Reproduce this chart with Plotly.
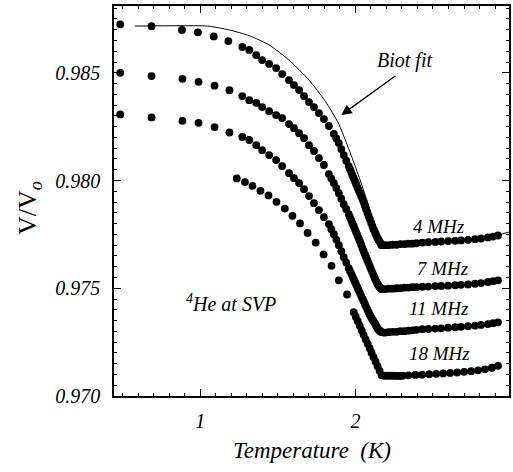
import plotly.graph_objects as go

# ---------------- data ----------------
T_4MHz = [0.484, 0.686, 0.882, 0.985, 1.087, 1.181,
          1.271, 1.316, 1.361, 1.399, 1.444, 1.489, 1.528, 1.572, 1.604, 1.637,
          1.669, 1.701, 1.733, 1.765, 1.797, 1.829, 1.861, 1.877, 1.893, 1.909,
          1.925, 1.941, 1.957, 1.973, 1.989, 2.005, 2.021, 2.037, 2.053, 2.069,
          2.085, 2.101, 2.117, 2.130, 2.143, 2.156, 2.169,
          2.188, 2.213, 2.239, 2.265, 2.290, 2.316, 2.342, 2.367, 2.393,
          2.431, 2.470, 2.515, 2.553, 2.598, 2.643, 2.681, 2.726, 2.771, 2.810,
          2.854, 2.887, 2.919]
V_4MHz = [0.98725, 0.98716, 0.98699, 0.98688, 0.98669, 0.98647,
          0.98620, 0.98606, 0.98582, 0.98559, 0.98541, 0.98522, 0.98494, 0.98466, 0.98443, 0.98420,
          0.98392, 0.98364, 0.98341, 0.98313, 0.98285, 0.98253, 0.98216, 0.98195, 0.98174, 0.98146,
          0.98118, 0.98092, 0.98067, 0.98039, 0.98011, 0.97983, 0.97955, 0.97928, 0.97899, 0.97867,
          0.97835, 0.97804, 0.97774, 0.97753, 0.97732, 0.97716, 0.97700,
          0.97700, 0.97700, 0.97702, 0.97702, 0.97705, 0.97705, 0.97707, 0.97707, 0.97709,
          0.97712, 0.97714, 0.97715, 0.97717, 0.97719, 0.97720, 0.97722, 0.97725, 0.97728, 0.97731,
          0.97736, 0.97740, 0.97745]

T_7MHz = [0.484, 0.686, 0.885, 0.989, 1.092, 1.188,
          1.271, 1.316, 1.361, 1.399, 1.444, 1.489, 1.528, 1.572, 1.604, 1.637,
          1.669, 1.701, 1.733, 1.765, 1.797,
          1.829, 1.845, 1.861, 1.877, 1.893, 1.909, 1.925, 1.941, 1.957, 1.973,
          1.989, 2.005, 2.021, 2.037, 2.053, 2.069, 2.085, 2.101, 2.117, 2.130,
          2.143, 2.156, 2.169,
          2.188, 2.213, 2.239, 2.265, 2.290, 2.316, 2.342, 2.367, 2.393,
          2.431, 2.470, 2.515, 2.553, 2.598, 2.643, 2.681, 2.726, 2.771, 2.810,
          2.854, 2.887, 2.919]
V_7MHz = [0.98500, 0.98485, 0.98472, 0.98458, 0.98440, 0.98419,
          0.98392, 0.98373, 0.98360, 0.98341, 0.98322, 0.98304, 0.98290, 0.98262, 0.98243, 0.98220,
          0.98197, 0.98164, 0.98137, 0.98104, 0.98072,
          0.98030, 0.98009, 0.97988, 0.97965, 0.97941, 0.97916, 0.97890, 0.97867, 0.97844, 0.97816,
          0.97788, 0.97760, 0.97732, 0.97702, 0.97672, 0.97644, 0.97616, 0.97588, 0.97561, 0.97537,
          0.97519, 0.97505, 0.97496,
          0.97496, 0.97498, 0.97498, 0.97500, 0.97500, 0.97503, 0.97503, 0.97505, 0.97505,
          0.97507, 0.97508, 0.97510, 0.97511, 0.97512, 0.97514, 0.97516, 0.97518, 0.97521, 0.97524,
          0.97529, 0.97533, 0.97537]

T_11MHz = [0.484, 0.686, 0.885, 0.989, 1.092, 1.188,
           1.271, 1.316, 1.361, 1.399, 1.444, 1.489, 1.528, 1.572, 1.604, 1.637,
           1.669, 1.701, 1.733, 1.765, 1.797,
           1.829, 1.845, 1.861, 1.877, 1.893, 1.909, 1.925, 1.941, 1.957, 1.973,
           1.989, 2.005, 2.021, 2.037, 2.053, 2.069, 2.085, 2.101, 2.117, 2.130,
           2.143, 2.156, 2.169,
           2.188, 2.213, 2.239, 2.265, 2.290, 2.316, 2.342, 2.367, 2.393,
           2.431, 2.470, 2.515, 2.553, 2.598, 2.643, 2.681, 2.726, 2.771, 2.810,
           2.854, 2.887, 2.919]
V_11MHz = [0.98307, 0.98293, 0.98277, 0.98268, 0.98248, 0.98223,
           0.98202, 0.98188, 0.98164, 0.98141, 0.98118, 0.98095, 0.98067, 0.98034, 0.98011, 0.97988,
           0.97960, 0.97928, 0.97895, 0.97863, 0.97830,
           0.97798, 0.97774, 0.97751, 0.97726, 0.97700, 0.97672, 0.97644, 0.97619, 0.97593, 0.97568,
           0.97542, 0.97517, 0.97491, 0.97465, 0.97440, 0.97414, 0.97389, 0.97366, 0.97347, 0.97331,
           0.97314, 0.97303, 0.97296,
           0.97294, 0.97296, 0.97298, 0.97298, 0.97301, 0.97301, 0.97303, 0.97305, 0.97307,
           0.97310, 0.97311, 0.97313, 0.97314, 0.97317, 0.97319, 0.97321, 0.97324, 0.97327, 0.97330,
           0.97334, 0.97338, 0.97342]

# extra readings in the densely sampled steep part just below T_lambda
T_steep_extra = [1.965, 1.981, 1.997, 2.013, 2.029, 2.045, 2.061, 2.077, 2.093, 2.109,
                 2.124, 2.137, 2.150, 2.163]
V_4MHz_extra = [0.98053, 0.98025, 0.97997, 0.97969, 0.97942, 0.97914, 0.97883, 0.97851, 0.97820,
                0.97789, 0.97764, 0.97743, 0.97724, 0.97708]
V_7MHz_extra = [0.97830, 0.97802, 0.97774, 0.97746, 0.97717, 0.97687, 0.97658, 0.97630, 0.97602,
                0.97575, 0.97549, 0.97528, 0.97512, 0.97500]
V_11MHz_extra = [0.97580, 0.97555, 0.97529, 0.97504, 0.97478, 0.97452, 0.97427, 0.97401, 0.97377,
                 0.97356, 0.97339, 0.97322, 0.97308, 0.97299]

T_18MHz = [1.235, 1.288, 1.337, 1.388, 1.440, 1.491, 1.545, 1.594, 1.643, 1.692,
           1.744, 1.795, 1.846, 1.893, 1.946,
           1.989, 2.002, 2.015, 2.028, 2.040, 2.053, 2.066, 2.079, 2.092, 2.104,
           2.117, 2.130, 2.143, 2.156, 2.169,
           2.188, 2.207, 2.226, 2.246, 2.265, 2.284, 2.303,
           2.342, 2.387, 2.431, 2.476, 2.521, 2.566, 2.611, 2.656, 2.701, 2.746,
           2.790, 2.835, 2.880, 2.919]
V_18MHz = [0.98010, 0.97993, 0.97975, 0.97952, 0.97931, 0.97901, 0.97870, 0.97836, 0.97801, 0.97757,
           0.97712, 0.97657, 0.97604, 0.97537, 0.97471,
           0.97389, 0.97368, 0.97347, 0.97326, 0.97305, 0.97284, 0.97263, 0.97242, 0.97222, 0.97201,
           0.97180, 0.97159, 0.97138, 0.97117, 0.97096,
           0.97094, 0.97094, 0.97094, 0.97094, 0.97093, 0.97093, 0.97094,
           0.97096, 0.97098, 0.97099, 0.97101, 0.97103, 0.97105, 0.97107, 0.97109, 0.97112, 0.97115,
           0.97119, 0.97124, 0.97131, 0.97140]

# Biot fit (curved part below T_lambda, then the part above T_lambda)
T_fit_low = [0.579, 1.047, 1.124, 1.188, 1.316, 1.444, 1.572, 1.701, 1.808, 1.893,
             2.000, 2.074, 2.128, 2.160, 2.171]
V_fit_low = [0.98717, 0.98717, 0.98708, 0.98699, 0.98672, 0.98629, 0.98559, 0.98466, 0.98366, 0.98262,
             0.98064, 0.97909, 0.97785, 0.97723, 0.97708]
T_fit_high = [2.171, 2.385, 2.681, 2.918, 2.995]
V_fit_high = [0.97708, 0.97711, 0.97723, 0.97746, 0.97762]

series = [(T_4MHz + T_steep_extra, V_4MHz + V_4MHz_extra),
          (T_7MHz + T_steep_extra, V_7MHz + V_7MHz_extra),
          (T_11MHz + T_steep_extra, V_11MHz + V_11MHz_extra),
          (T_18MHz, V_18MHz)]
labels = ["4 MHz", "7 MHz", "11 MHz", "18 MHz"]
label_T = [2.540, 2.563, 2.540, 2.540]
label_V = [0.97788, 0.97593, 0.97407, 0.97198]

x_ticks = [1, 2, 3]
y_ticks = [0.970, 0.975, 0.980, 0.985]

FONT = "Liberation Serif, Times New Roman, serif"

fig = go.Figure()
for T, V in series:
    fig.add_trace(go.Scatter(x=T, y=V, mode="markers",
                             marker=dict(size=7.8, color="black", line=dict(width=0)),
                             showlegend=False, hoverinfo="skip"))
fig.add_trace(go.Scatter(x=T_fit_low, y=V_fit_low, mode="lines",
                         line=dict(color="black", width=1, shape="spline", smoothing=0.6),
                         showlegend=False, hoverinfo="skip"))
fig.add_trace(go.Scatter(x=T_fit_high, y=V_fit_high, mode="lines",
                         line=dict(color="black", width=1),
                         showlegend=False, hoverinfo="skip"))

annots = []
for lab, tx, vy in zip(labels, label_T, label_V):
    annots.append(dict(x=tx, y=vy, xref="x", yref="y", text=lab, showarrow=False,
                       xanchor="center", yanchor="middle",
                       font=dict(family=FONT, size=19, color="black", style="italic")))
annots.append(dict(x=2.316, y=0.98555, xref="x", yref="y", text="Biot fit", showarrow=False,
                   xanchor="center", yanchor="middle",
                   font=dict(family=FONT, size=20, color="black", style="italic")))
annots.append(dict(x=1.909, y=0.98304, xref="x", yref="y", ax=2.267, ay=0.98490,
                   axref="x", ayref="y", text="", showarrow=True,
                   arrowhead=2, arrowsize=1.5, arrowwidth=1.4, arrowcolor="black"))
annots.append(dict(x=1.197, y=0.97431, xref="x", yref="y", text="<sup>4</sup>He at SVP",
                   showarrow=False, xanchor="center", yanchor="middle",
                   font=dict(family=FONT, size=20, color="black", style="italic")))
annots.append(dict(x=-0.215, y=0.482, xref="paper", yref="paper", textangle=-90,
                   xanchor="center", yanchor="middle",
                   text="V/V<sub><i>o</i></sub>", showarrow=False,
                   font=dict(family=FONT, size=26, color="black")))
annots.append(dict(x=0.5, y=-0.141, xref="paper", yref="paper",
                   xanchor="center", yanchor="middle",
                   text="Temperature\u00a0\u00a0(K)", showarrow=False,
                   font=dict(family=FONT, size=23, color="black", style="italic")))
fig.update_layout(annotations=annots)

axis_common = dict(showline=True, linecolor="black", linewidth=1.5, mirror="ticks",
                   ticks="inside", ticklen=7, tickwidth=1.2, tickcolor="black",
                   showgrid=False, zeroline=False,
                   tickfont=dict(family=FONT, size=20, color="black", style="italic"))

fig.update_xaxes(range=[0.444, 2.99], tickvals=x_ticks,
                 ticktext=["<i>%d</i>" % v for v in x_ticks],
                 minor=dict(dtick=0.1, tick0=0, ticks="inside", ticklen=3.5,
                            tickwidth=1, tickcolor="black"),
                 ticklabelstandoff=6, **axis_common)
fig.update_yaxes(range=[0.970, 0.9881], tickvals=y_ticks,
                 ticktext=["<i>%.3f</i>" % v for v in y_ticks],
                 minor=dict(dtick=0.0005, tick0=0.970, ticks="inside", ticklen=3.5,
                            tickwidth=1, tickcolor="black"),
                 ticklabelstandoff=8, **axis_common)

fig.update_layout(width=513, height=472,
                  margin=dict(l=114, r=2, t=6, b=76),
                  plot_bgcolor="white", paper_bgcolor="white",
                  showlegend=False)

fig.write_html("out.html")
